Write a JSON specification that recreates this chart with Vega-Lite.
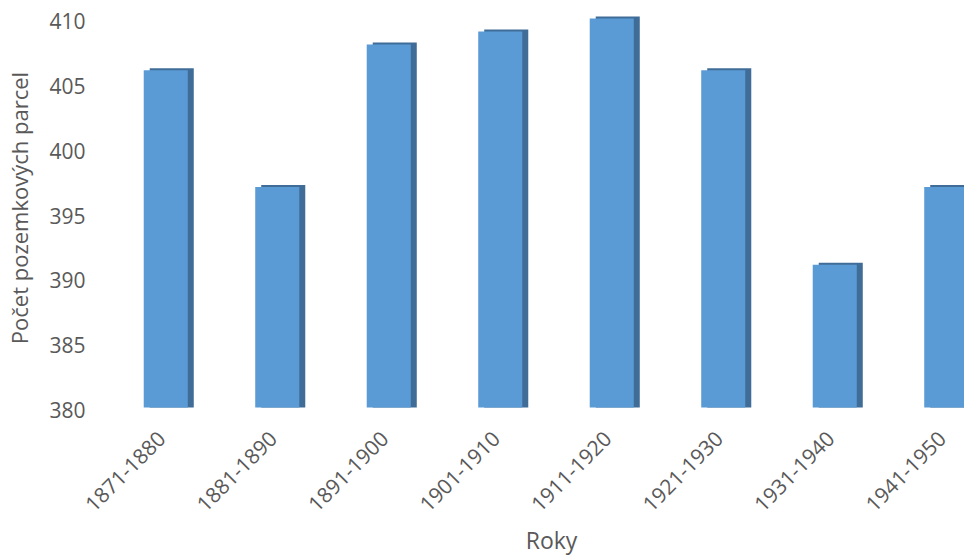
{
  "$schema": "https://vega.github.io/schema/vega-lite/v6.json",
  "width": 854,
  "height": 389,
  "autosize": {"type": "none"},
  "padding": {"left": 110, "top": 18.5, "right": 0, "bottom": 148.5},
  "background": "white",
  "config": {
    "view": {"stroke": null},
    "font": "Open Sans"
  },
  "data": {
    "values": [
      {"roky": "1871-1880", "parcely": 406},
      {"roky": "1881-1890", "parcely": 397},
      {"roky": "1891-1900", "parcely": 408},
      {"roky": "1901-1910", "parcely": 409},
      {"roky": "1911-1920", "parcely": 410},
      {"roky": "1921-1930", "parcely": 406},
      {"roky": "1931-1940", "parcely": 391},
      {"roky": "1941-1950", "parcely": 397}
    ]
  },
  "encoding": {
    "x": {
      "field": "roky",
      "type": "nominal",
      "sort": null,
      "title": "Roky",
      "scale": {"range": [0, 892], "paddingInner": 0.605, "paddingOuter": 0.3025},
      "axis": {
        "domain": false,
        "ticks": false,
        "labelAngle": -45,
        "labelAlign": "right",
        "labelBaseline": "middle",
        "labelPadding": 28,
        "labelOffset": -3,
        "labelFontSize": 21,
        "labelColor": "#595959",
        "titleFontSize": 23,
        "titleFontWeight": "normal",
        "titleColor": "#595959",
        "titleX": 441,
        "titleY": 140.5,
        "titleAlign": "center",
        "titleBaseline": "alphabetic"
      }
    },
    "y": {
      "field": "parcely",
      "type": "quantitative",
      "title": "Počet pozemkových parcel",
      "scale": {"domain": [380, 410], "zero": false, "nice": false},
      "axis": {
        "values": [380, 385, 390, 395, 400, 405, 410],
        "grid": false,
        "domain": false,
        "ticks": false,
        "labelPadding": 25,
        "labelOffset": 4,
        "labelFontSize": 21,
        "labelColor": "#595959",
        "titleFontSize": 22,
        "titleFontWeight": "normal",
        "titleColor": "#595959",
        "titleAngle": -90,
        "titleX": -83,
        "titleY": 189,
        "titleAlign": "center",
        "titleBaseline": "alphabetic"
      }
    },
    "y2": {"datum": 380}
  },
  "layer": [
    {"mark": {"type": "bar", "color": "#3f6d98", "xOffset": 6, "yOffset": -2}},
    {"mark": {"type": "bar", "color": "#5b9bd5"}}
  ]
}
